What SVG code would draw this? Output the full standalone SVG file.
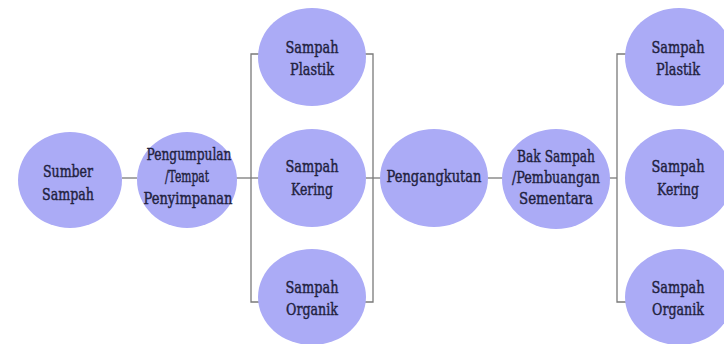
<svg xmlns="http://www.w3.org/2000/svg" width="724" height="344" viewBox="0 0 724 344">
<style>
.n{fill:#ababf6}
.t{font-family:"DejaVu Serif",serif;font-size:17px;fill:#22223f;stroke:#22223f;stroke-width:0.45;text-anchor:middle}
.c{stroke:#7a7a7a;stroke-width:1.3;fill:none}
</style>
<rect width="724" height="344" fill="#ffffff"/>
<g id="connectors" class="c">
<path d="M122 178H137"/>
<path d="M236 178H262"/>
<path d="M266 54H251V302H266"/>
<path d="M358 54H373V302H358"/>
<path d="M366 178H382"/>
<path d="M488 178H503"/>
<path d="M609 178H617"/>
<path d="M632 54H617V302H632"/>
</g>
<g id="sumber"><ellipse class="n" cx="70" cy="180" rx="52" ry="48"/><text class="t" x="68" y="177" textLength="50" lengthAdjust="spacingAndGlyphs">Sumber</text><text class="t" x="68" y="200" textLength="52" lengthAdjust="spacingAndGlyphs">Sampah</text></g>
<g id="pengumpulan"><ellipse class="n" cx="187" cy="180" rx="50" ry="48"/><text class="t" x="189" y="160" textLength="85" lengthAdjust="spacingAndGlyphs">Pengumpulan</text><text class="t" x="187" y="182" textLength="44" lengthAdjust="spacingAndGlyphs">/Tempat</text><text class="t" x="188" y="204" textLength="89" lengthAdjust="spacingAndGlyphs">Penyimpanan</text></g>
<g id="plastik1"><ellipse class="n" cx="312" cy="57" rx="54" ry="49"/><text class="t" x="312" y="53" textLength="53" lengthAdjust="spacingAndGlyphs">Sampah</text><text class="t" x="312" y="75" textLength="44" lengthAdjust="spacingAndGlyphs">Plastik</text></g>
<g id="kering1"><ellipse class="n" cx="312" cy="178" rx="54" ry="49"/><text class="t" x="312" y="172" textLength="53" lengthAdjust="spacingAndGlyphs">Sampah</text><text class="t" x="312" y="195" textLength="42" lengthAdjust="spacingAndGlyphs">Kering</text></g>
<g id="organik1"><ellipse class="n" cx="312" cy="297" rx="54" ry="48"/><text class="t" x="312" y="293" textLength="53" lengthAdjust="spacingAndGlyphs">Sampah</text><text class="t" x="312" y="315" textLength="52" lengthAdjust="spacingAndGlyphs">Organik</text></g>
<g id="pengangkutan"><ellipse class="n" cx="434" cy="178" rx="54" ry="49"/><text class="t" x="434" y="182" textLength="95" lengthAdjust="spacingAndGlyphs">Pengangkutan</text></g>
<g id="bak"><ellipse class="n" cx="556" cy="179" rx="54" ry="50"/><text class="t" x="556" y="162" textLength="78" lengthAdjust="spacingAndGlyphs">Bak Sampah</text><text class="t" x="556" y="183" textLength="88" lengthAdjust="spacingAndGlyphs">/Pembuangan</text><text class="t" x="556" y="204" textLength="74" lengthAdjust="spacingAndGlyphs">Sementara</text></g>
<g id="plastik2"><ellipse class="n" cx="679" cy="57" rx="54" ry="49"/><text class="t" x="678" y="53" textLength="53" lengthAdjust="spacingAndGlyphs">Sampah</text><text class="t" x="678" y="75" textLength="44" lengthAdjust="spacingAndGlyphs">Plastik</text></g>
<g id="kering2"><ellipse class="n" cx="679" cy="178" rx="54" ry="49"/><text class="t" x="678" y="172" textLength="53" lengthAdjust="spacingAndGlyphs">Sampah</text><text class="t" x="678" y="195" textLength="42" lengthAdjust="spacingAndGlyphs">Kering</text></g>
<g id="organik2"><ellipse class="n" cx="679" cy="297" rx="54" ry="48"/><text class="t" x="678" y="293" textLength="53" lengthAdjust="spacingAndGlyphs">Sampah</text><text class="t" x="678" y="315" textLength="52" lengthAdjust="spacingAndGlyphs">Organik</text></g>
</svg>
